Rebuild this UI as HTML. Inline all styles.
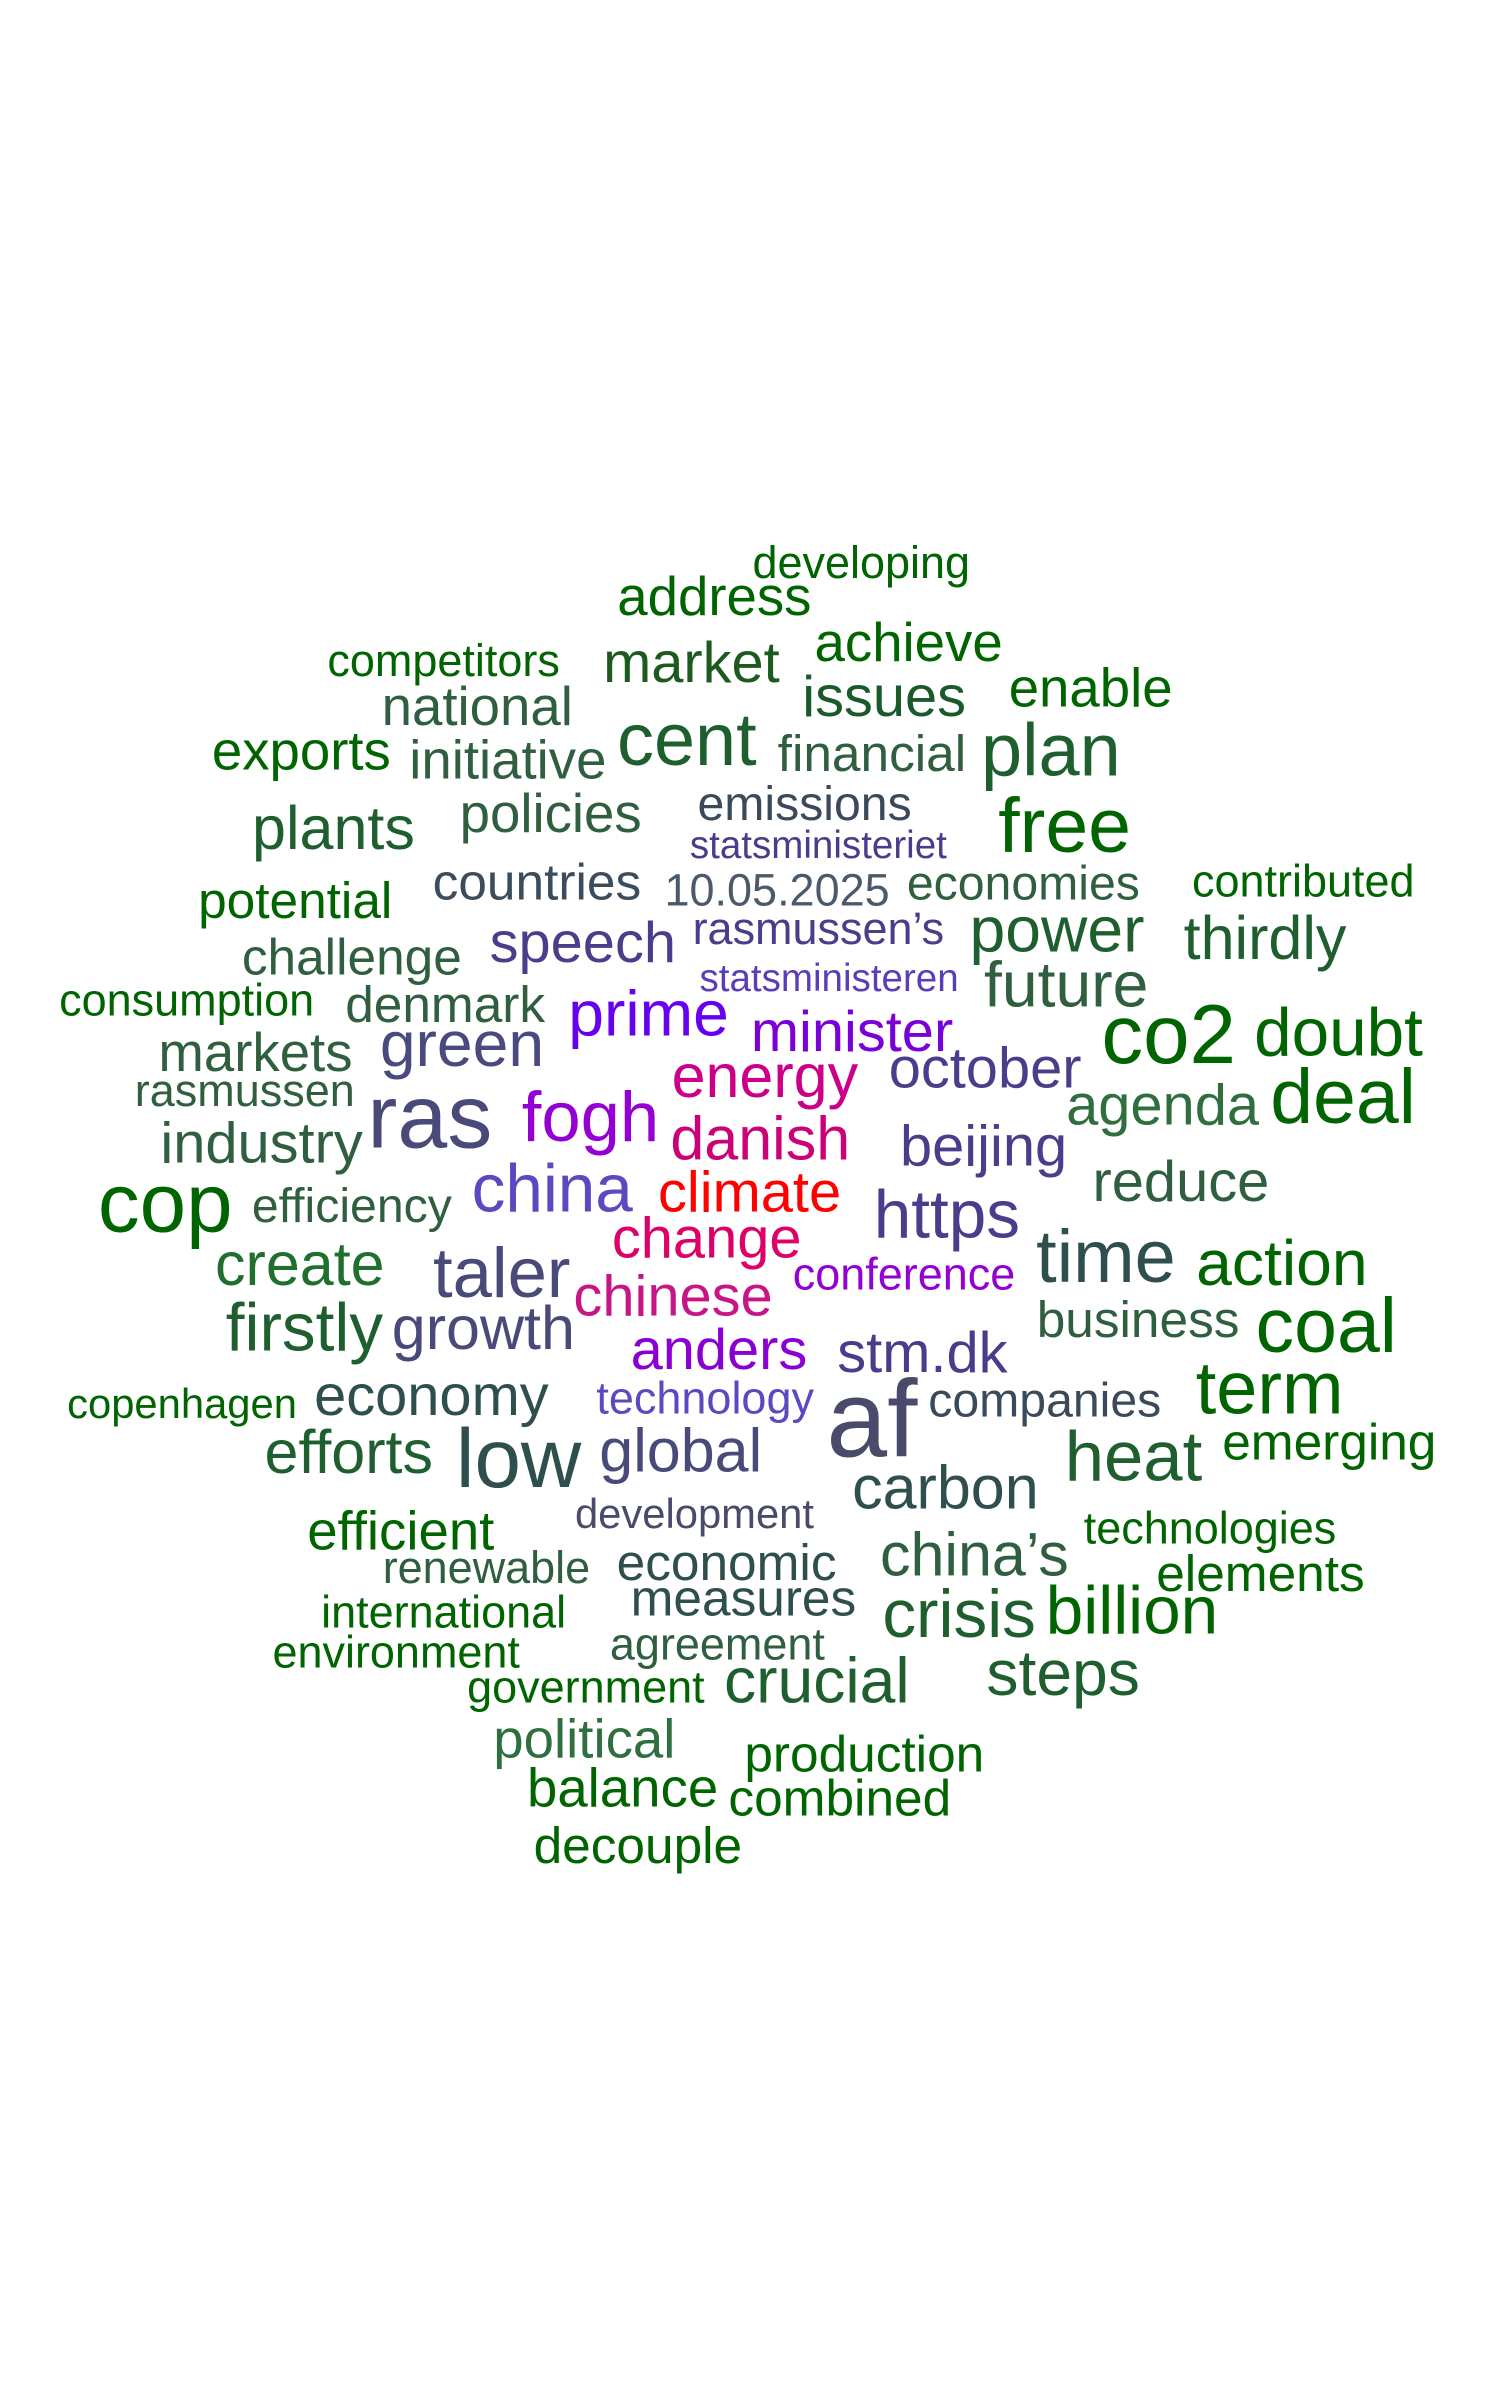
<!DOCTYPE html>
<html><head><meta charset="utf-8"><title>Word cloud</title>
<style>html,body{margin:0;padding:0;background:#fff;}svg{display:block;}</style></head>
<body>
<svg id="cloud" width="1500" height="2400" viewBox="0 0 960 1536" xmlns="http://www.w3.org/2000/svg">
<rect width="960" height="1536" fill="#fff"/>
<g id="words" transform="scale(0.979)" font-family="'Liberation Sans', sans-serif" text-anchor="middle"></g>
</svg>
<script>
const words = ["developing","address","competitors","market","achieve","national","issues","enable","cent","exports","initiative","financial","plan","plants","policies","emissions","free","statsministeriet","potential","countries","10.05.2025","economies","contributed","speech","rasmussen’s","power","thirdly","challenge","statsministeren","future","consumption","denmark","prime","minister","co2","doubt","markets","green","rasmussen","ras","fogh","energy","october","agenda","deal","industry","danish","beijing","cop","efficiency","china","climate","reduce","change","https","time","create","taler","action","conference","chinese","firstly","growth","business","coal","anders","stm.dk","copenhagen","economy","technology","companies","term","af","efforts","low","global","heat","emerging","carbon","development","efficient","technologies","renewable","economic","china’s","elements","international","measures","crisis","billion","environment","agreement","government","crucial","steps","political","production","balance","combined","decouple"];
const sizes = [28,34,28,36,34,34,36,34,46,34,34,32,46,38,34,30,48,24,32,32,28,30,28,36,28,40,38,32,24,40,28,32,40,36,52,42,34,40,28,56,44,38,36,36,48,36,38,36,52,30,42,36,36,36,42,46,38,44,40,28,36,42,38,32,48,36,36,26,36,28,30,46,68,38,52,38,44,32,38,26,34,28,28,32,38,32,28,32,42,42,28,28,28,40,40,34,32,34,32,32];
const layoutX = [563,467,290,452,594,312,578,713,449,197,332,570,687,218,360,526,696,535,193,351,508,669,852,381,535,691,827,230,542,697,122,291,424,557,764,875,167,302,160,281,386,500,644,760,878,171,497,643,108,230,361,490,772,462,619,723,196,328,838,591,440,199,316,744,867,470,603,119,282,461,683,830,570,228,339,445,741,869,618,454,262,791,318,475,637,824,290,486,627,740,259,469,383,534,695,382,565,407,549,417];
const layoutY = [378,402,442,446,432,474,468,462,500,503,509,504,507,555,544,536,557,561,600,588,592,588,586,629,617,622,627,637,648,658,664,668,677,687,695,690,700,697,723,750,746,717,711,735,734,760,758,762,805,799,792,792,785,822,809,838,840,848,840,843,860,883,882,874,884,895,897,927,925,924,926,924,952,963,972,962,968,954,986,999,1013,1009,1035,1033,1030,1040,1064,1056,1070,1068,1090,1085,1113,1113,1108,1149,1158,1181,1187,1218];
const colors = ["#006400","#006400","#006400","#1e5a1e","#006400","#2f5f3f","#1a5a2a","#006400","#1f5f2f","#006400","#2f5f3f","#2f5f3f","#1f5f2f","#1f5f2f","#2f5f3f","#3a4a5a","#006400","#483d8b","#006400","#3b4d5d","#4a5a6a","#2f5f3f","#006400","#4b3d8b","#4b3d8b","#1f5f2f","#1f5f2f","#2f5f3f","#5a3db8","#2f5f3f","#006400","#2f5f3f","#6600ee","#7a00d8","#006400","#006400","#2f5f3f","#4a4a80","#2f5f3f","#4a4a7a","#9400d3","#cc0088","#4b3d8b","#2f6f3f","#006400","#2f5f3f","#cc0077","#4b3d8b","#006400","#2f5f3f","#5a4ac0","#ff0000","#2f5f3f","#dd0066","#4b3d8b","#2f4f4f","#1f6f2f","#4a4a7a","#006400","#9400d3","#c71585","#1f5f2f","#4a4a7a","#2f5f3f","#006400","#8a00d3","#483d8b","#006400","#2f4f4f","#5a4ac0","#3a4a5a","#006400","#4a4a6a","#1f5f2f","#2f4f4f","#4a4a7a","#1f5f2f","#006400","#2f4f4f","#4a4a6a","#006400","#006400","#2f5f3f","#2f4f4f","#2f5f3f","#006400","#006400","#2f4f4f","#1f5f2f","#006400","#006400","#2f5f3f","#006400","#1f5f2f","#1f5f2f","#2f6f3f","#006400","#006400","#006400","#006400"];
const g = document.getElementById('words');
for (let i = 0; i < words.length; i++) {
  const t = document.createElementNS('http://www.w3.org/2000/svg', 'text');
  t.setAttribute('x', layoutX[i]);
  t.setAttribute('y', layoutY[i]);
  t.setAttribute('font-size', sizes[i] * 1.05);
  t.setAttribute('fill', colors[i]);
  
  
  t.textContent = words[i];
  g.appendChild(t);
}
</script>
</body></html>
